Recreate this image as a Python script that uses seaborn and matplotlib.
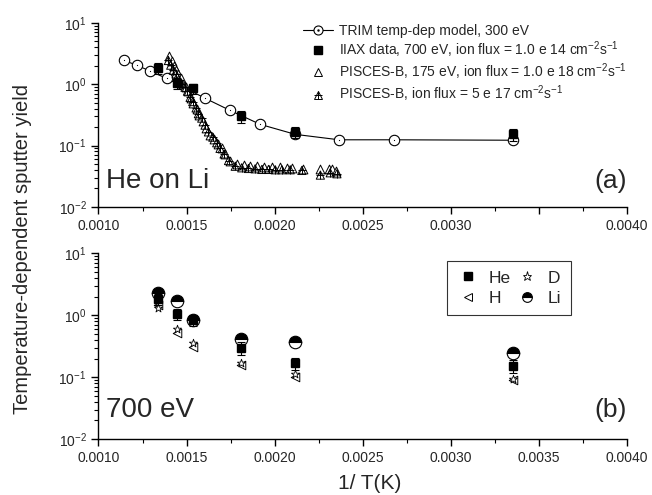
import matplotlib
matplotlib.use("Agg")
import matplotlib.pyplot as plt
from matplotlib.legend_handler import HandlerTuple
from matplotlib.lines import Line2D
import seaborn as sns
import pandas as pd

# ---- data ----
# TRIM temp-dep model, 300 eV (line + open circles)
trim_x = [0.001145, 0.001217, 0.001293, 0.001387, 0.001607, 0.001747,
          0.001918, 0.002117, 0.002365, 0.002679, 0.003353]
trim_y = [2.43, 2.04, 1.63, 1.24, 0.585, 0.373, 0.221, 0.152, 0.124, 0.124, 0.122]

# IIAX data, 700 eV (He on Li)
iiax_x = [0.001336, 0.001444, 0.001535, 0.00181, 0.002117, 0.003353]
iiax_y = [1.84, 1.05, 0.85, 0.30, 0.167, 0.152]
iiax_err = [0.35, 0.22, 0.17, 0.07, 0.035, 0.035]

# PISCES-B, 175 eV, ion flux = 1.0e18
pa_x = [0.001402, 0.001416, 0.001429, 0.001440, 0.001454, 0.001467, 0.001482,
        0.001497, 0.001510, 0.001524, 0.001539, 0.001558, 0.001573, 0.001592,
        0.001611, 0.001634, 0.001656, 0.001681, 0.001700, 0.001719, 0.001747,
        0.001785, 0.001823, 0.001861, 0.001899, 0.001937, 0.001984, 0.002031,
        0.002069, 0.002098, 0.002160, 0.002255, 0.002306, 0.002325, 0.002349]
pa_y = [2.86, 2.37, 1.96, 1.73, 1.44, 1.24, 1.01, 0.89, 0.77, 0.60, 0.50,
        0.39, 0.32, 0.25, 0.195, 0.151, 0.126, 0.104, 0.092, 0.072, 0.057,
        0.050, 0.049, 0.047, 0.046, 0.045, 0.0445, 0.0445, 0.0434, 0.0434,
        0.0418, 0.0408, 0.0418, 0.0408, 0.0383]

# PISCES-B, ion flux = 5e17
pb_x = [0.001397, 0.001410, 0.001425, 0.001440, 0.001455, 0.001473, 0.001491,
        0.001505, 0.001520, 0.001535, 0.001554, 0.001567, 0.001586, 0.001605,
        0.001624, 0.001649, 0.001671, 0.001690, 0.001713, 0.001738, 0.001776,
        0.001813, 0.001851, 0.001889, 0.001927, 0.001965, 0.002003, 0.002041,
        0.002088, 0.002154, 0.002259, 0.002315, 0.002353]
pb_y = [2.43, 2.04, 1.69, 1.47, 1.19, 1.01, 0.89, 0.77, 0.61, 0.52, 0.41,
        0.33, 0.28, 0.215, 0.167, 0.137, 0.111, 0.090, 0.073, 0.057, 0.046,
        0.0434, 0.0423, 0.0418, 0.0408, 0.0408, 0.0403, 0.0403, 0.0403,
        0.0393, 0.033, 0.036, 0.0347]

# bottom panel, 700 eV, different projectiles
b_x = [0.001336, 0.001444, 0.001535, 0.00181, 0.002117, 0.003353]
he_y = [1.84, 1.05, 0.85, 0.30, 0.167, 0.152]
he_err = [0.35, 0.22, 0.17, 0.07, 0.035, 0.035]
d_y = [1.33, 0.59, 0.36, 0.172, 0.112, 0.092]
h_y = [1.45, 0.52, 0.31, 0.158, 0.099, 0.090]
li_y = [2.32, 1.70, 0.84, 0.41, 0.375, 0.25]

xticks = [0.0010, 0.0015, 0.0020, 0.0025, 0.0030, 0.0035, 0.0040]
top_xlabels = ["0.0010", "0.0015", "0.0020", "0.0025", "0.0030", "", "0.0040"]
bot_xlabels = ["0.0010", "0.0015", "0.0020", "0.0025", "0.0030", "0.0035", "0.0040"]

sns.set_style("ticks")
plt.rcParams['font.family'] = ['Liberation Sans', 'DejaVu Sans']
plt.rcParams['mathtext.fontset'] = 'custom'
plt.rcParams['mathtext.rm'] = 'Liberation Sans'
plt.rcParams['mathtext.it'] = 'Liberation Sans'

fig = plt.figure(figsize=(6.52, 4.95), dpi=100)
ax1 = fig.add_axes([0.151, 0.582, 0.811, 0.372])
ax2 = fig.add_axes([0.151, 0.113, 0.811, 0.375])

for ax, labs in ((ax1, top_xlabels), (ax2, bot_xlabels)):
    ax.set_yscale("log")
    ax.set_ylim(0.01, 10)
    ax.set_xlim(0.0010, 0.0040)
    ax.set_xticks(xticks)
    ax.set_xticklabels(labs)
    ax.set_xticks([0.00125, 0.00175, 0.00225, 0.00275, 0.00325, 0.00375], minor=True)
    ax.set_yticks([0.01, 0.1, 1, 10])
    ax.set_yticklabels(["10$^{-2}$", "10$^{-1}$", "10$^{0}$", "10$^{1}$"])
    ax.tick_params(axis="both", which="major", direction="out", length=5,
                   width=1, labelsize=10, color="black")
    ax.tick_params(axis="both", which="minor", direction="out", length=3,
                   width=0.8, color="black")
    for s in ("top", "right"):
        ax.spines[s].set_visible(False)
    for s in ("left", "bottom"):
        ax.spines[s].set_color("black")
        ax.spines[s].set_linewidth(1)

# ---- top panel ----
trim_df = pd.DataFrame({"x": trim_x, "y": trim_y})
sns.lineplot(data=trim_df, x="x", y="y", ax=ax1, color="black", linewidth=0.8,
             marker="o", markersize=7.5, markerfacecolor="white",
             markeredgecolor="black", markeredgewidth=0.8, zorder=2)
sns.scatterplot(x=trim_x, y=trim_y, ax=ax1, marker=".", s=3, color="black",
                linewidth=0, zorder=3)

sns.scatterplot(x=pa_x, y=pa_y, ax=ax1, marker="^", s=40, facecolor="white",
                edgecolor="black", linewidth=0.7, zorder=3)
sns.scatterplot(x=pb_x, y=pb_y, ax=ax1, marker="^", s=35, facecolor="none",
                edgecolor="black", linewidth=0.7, zorder=3)
sns.scatterplot(x=pb_x, y=pb_y, ax=ax1, marker="+", s=35, color="black",
                linewidth=0.7, zorder=3)

ax1.errorbar(iiax_x, iiax_y, yerr=iiax_err, fmt="s", color="black",
             markersize=5.5, elinewidth=0.8, capsize=3, capthick=0.8, zorder=4)
ax1.set_xlabel("")
ax1.set_ylabel("")

h_trim = Line2D([], [], color="black", lw=0.8, marker="o", markersize=6.5,
                markerfacecolor="white", markeredgewidth=0.8)
h_trim_dot = Line2D([], [], color="black", lw=0, marker=".", markersize=1.5)
h_iiax = Line2D([], [], color="black", lw=0, marker="s", markersize=5.5)
h_pa = Line2D([], [], color="black", lw=0, marker="^", markersize=6,
              markerfacecolor="white", markeredgewidth=0.7)
h_pb1 = Line2D([], [], color="black", lw=0, marker="^", markersize=6,
               markerfacecolor="none", markeredgewidth=0.7)
h_pb2 = Line2D([], [], color="black", lw=0, marker="+", markersize=6,
               markeredgewidth=0.7)
ax1.legend([(h_trim, h_trim_dot), h_iiax, h_pa, (h_pb1, h_pb2)],
           ["TRIM temp-dep model, 300 eV",
            "IIAX data, 700 eV, ion flux = 1.0 e 14 cm$^{-2}$s$^{-1}$",
            "PISCES-B, 175 eV, ion flux = 1.0 e 18 cm$^{-2}$s$^{-1}$",
            "PISCES-B, ion flux = 5 e 17 cm$^{-2}$s$^{-1}$"],
           handler_map={tuple: HandlerTuple(ndivide=1, pad=0)},
           loc="upper left", bbox_to_anchor=(0.387, 0.995), frameon=False,
           borderpad=0, borderaxespad=0,
           fontsize=10, handlelength=2.15, handletextpad=0.4, labelspacing=0.12)

ax1.text(0.015, 0.103, "He on Li", transform=ax1.transAxes, fontsize=20,
         ha="left", va="baseline")
ax1.text(1.0, 0.103, "(a)", transform=ax1.transAxes, fontsize=19,
         ha="right", va="baseline")

# ---- bottom panel ----
sns.scatterplot(x=b_x, y=d_y, ax=ax2, marker="*", s=38, facecolor="white",
                edgecolor="black", linewidth=0.6, zorder=3)
sns.scatterplot(x=b_x, y=h_y, ax=ax2, marker="<", s=38, facecolor="white",
                edgecolor="black", linewidth=0.7, zorder=2)
ax2.plot(b_x, li_y, linestyle="none", marker="o", markersize=9,
         fillstyle="top", markerfacecolor="black", markerfacecoloralt="white",
         markeredgecolor="black", markeredgewidth=0.8, zorder=3)
ax2.errorbar(b_x, he_y, yerr=he_err, fmt="s", color="black", markersize=5.5,
             elinewidth=0.8, capsize=3, capthick=0.8, zorder=4)
ax2.set_xlabel("")
ax2.set_ylabel("")

lh_he = Line2D([], [], color="black", lw=0, marker="s", markersize=5.5)
lh_h = Line2D([], [], color="black", lw=0, marker="<", markersize=6,
              markerfacecolor="white", markeredgewidth=0.7)
lh_d = Line2D([], [], color="black", lw=0, marker="*", markersize=6.5,
              markerfacecolor="white", markeredgewidth=0.6)
lh_li = Line2D([], [], color="black", lw=0, marker="o", markersize=7,
               fillstyle="top", markerfacecolor="black",
               markerfacecoloralt="white", markeredgewidth=0.8)
leg = ax2.legend([lh_he, lh_h, lh_d, lh_li], ["He", "H", "D", "Li"], ncol=2,
                 loc="upper left", bbox_to_anchor=(0.66, 0.96), borderaxespad=0,
                 fontsize=12.5, frameon=True, fancybox=False, edgecolor="black",
                 handlelength=1.3, handletextpad=0.55, columnspacing=0.25,
                 labelspacing=0.3, borderpad=0.55)
leg.get_frame().set_linewidth(0.8)

ax2.text(0.015, 0.118, "700 eV", transform=ax2.transAxes, fontsize=20,
         ha="left", va="baseline")
ax2.text(1.0, 0.118, "(b)", transform=ax2.transAxes, fontsize=19,
         ha="right", va="baseline")

fig.text(0.034, 0.497, "Temperature-dependent sputter yield", rotation=90,
         fontsize=14.5, ha="center", va="center")
fig.text(0.567, 0.024, "1/ T(K)", fontsize=15, ha="center", va="center")

fig.savefig("out.png", dpi=100)
